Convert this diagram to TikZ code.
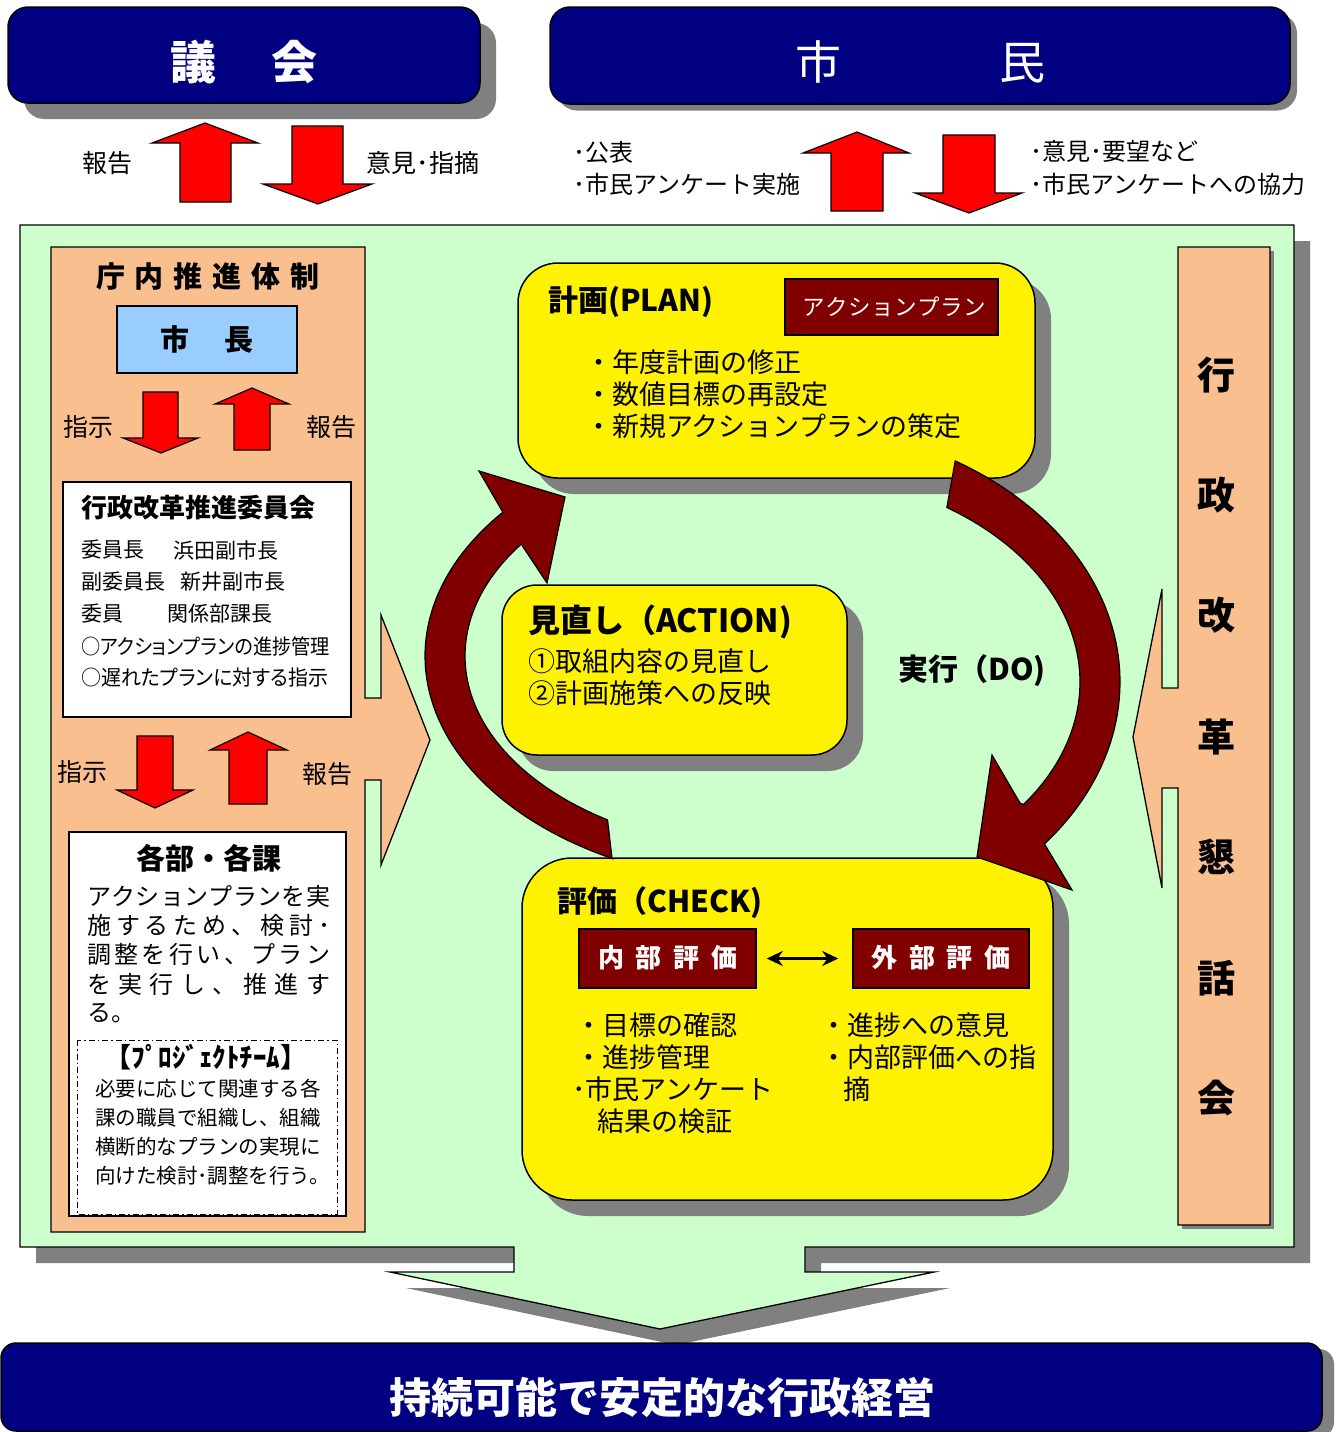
\documentclass[tikz,border=0pt]{standalone}
\usepackage{fontspec}
\usepackage{graphicx}
\setmainfont{Noto Sans CJK JP}
\newfontfamily\pf[RawFeature=+palt]{Noto Sans CJK JP}
\usetikzlibrary{arrows.meta}
\newcommand\fs[1]{\fontsize{#1}{#1}\selectfont}
\makeatletter
\def\spr#1{\spr@a#1\@nil}
\def\spr@a#1{\ifx#1\@nil\else#1\expandafter\spr@b\fi}
\def\spr@b#1{\ifx#1\@nil\else\hfill#1\expandafter\spr@b\fi}
\makeatother
\definecolor{navy}{RGB}{0,0,128}
\definecolor{dred}{RGB}{128,0,0}
\definecolor{pgreen}{RGB}{204,255,204}
\definecolor{orng}{RGB}{250,191,143}
\definecolor{lblue}{RGB}{153,204,255}
\definecolor{shd}{RGB}{128,128,128}
\begin{document}
\begin{tikzpicture}[x=1pt,y=-1pt,line join=miter,
  shadowbox/.style={fill=shd,inner sep=0pt},
  navybox/.style={fill=navy,draw=black,line width=1.5pt,inner sep=0pt},
  yelbox/.style={fill=yellow,draw=black,line width=1.5pt,inner sep=0pt},
  redarr/.style={fill=red,draw=black,line width=1.2pt},
  darkarr/.style={fill=dred,draw=black,line width=1.2pt},
  lab/.style={inner sep=0pt,anchor=west},
  ctr/.style={inner sep=0pt},
  wbox/.style={fill=white,draw=black,line width=1.5pt,inner sep=0pt},
  tagbox/.style={fill=dred,draw=black,line width=1.5pt,inner sep=0pt,text=white},
  panel/.style={draw=black,line width=1.3pt}]
\useasboundingbox (0,0) rectangle (1337,1432);
\fill[white] (0,0) rectangle (1337,1432);

% --- top boxes
\node[shadowbox,rounded corners=20pt,minimum width=472pt,minimum height=96pt] (gikaishd) at (260,71) {};
\node[navybox,rounded corners=20pt,minimum width=472pt,minimum height=96pt] (gikai) at (244,55) {};
\node[ctr,text=white,font=\fs{46}\bfseries] (gikaitxt) at (244,62) {議\hspace{56pt}会};

\node[shadowbox,rounded corners=20pt,minimum width=740pt,minimum height=97pt] (shiminshd) at (927,62) {};
\node[navybox,rounded corners=20pt,minimum width=740pt,minimum height=97pt] (shimin) at (920,55.5) {};
\node[ctr,text=white,font=\fs{46}] (shimintxt) at (920,62) {市\hspace{158pt}民};

% --- top arrows
\draw[redarr] (180,202) -- (180,143) -- (152,143) -- (205,123) -- (258,143) -- (231,143) -- (231,202) -- cycle;
\draw[redarr] (292,126) -- (343,126) -- (343,184) -- (372,184) -- (318,204) -- (263,184) -- (292,184) -- cycle;
\draw[redarr] (831,211) -- (831,153) -- (803,153) -- (857,132) -- (909,153) -- (883,153) -- (883,211) -- cycle;
\draw[redarr] (943,135) -- (995,135) -- (995,193) -- (1022,193) -- (969,213) -- (915,193) -- (943,193) -- cycle;
\node[ctr,font=\fs{25}] (hk1) at (107,163) {報告};
\node[ctr,font=\fs{25}] (iken1) at (423,163) {意見･指摘};
\node[lab,font=\fs{24}] (kohyo) at (573,152) {･公表};
\node[lab,font=\fs{24}] (anke1) at (573,184) {･市民アンケート実施};
\node[lab,font=\fs{24}] (yobo) at (1030,151) {･意見･要望など};
\node[lab,font=\fs{24}] (anke2) at (1030,184) {･市民アンケートへの協力};

% --- green panel
\fill[shd] (36,241) -- (1310,241) -- (1310,1263) -- (821,1263) -- (821,1288) -- (950,1288) -- (676,1345) -- (406,1288) -- (530,1288) -- (530,1263) -- (36,1263) -- cycle;
\filldraw[fill=pgreen,panel] (20,225) -- (1294,225) -- (1294,1247) -- (805,1247) -- (805,1272) -- (934,1272) -- (660,1329) -- (390,1272) -- (514,1272) -- (514,1247) -- (20,1247) -- cycle;

% --- left orange panel
\filldraw[fill=orng,panel] (51,247) -- (365,247) -- (365,698) -- (381,698) -- (381,615) -- (430,740) -- (381,865) -- (381,780) -- (365,780) -- (365,1232) -- (51,1232) -- cycle;

% --- right orange panel
\fill[shd] (1182,251) rectangle (1274,1229);
\filldraw[fill=orng,panel] (1178,247) -- (1270,247) -- (1270,1225) -- (1178,1225) -- (1178,788) -- (1162,788) -- (1162,888) -- (1133,737) -- (1162,589) -- (1162,688) -- (1178,688) -- cycle;
\foreach \c/\yy [count=\i] in {行/375,政/495,改/615,革/737,懇/857,話/978,会/1098}
  \node[ctr,font=\fs{38}\bfseries] (kon\i) at (1216,\yy) {\c};

% --- left panel contents
\node[ctr,font=\fs{29}\bfseries] (chonai) at (208,276) {庁\hspace{10pt}内\hspace{10pt}推\hspace{10pt}進\hspace{10pt}体\hspace{10pt}制};
\node[fill=lblue,draw=black,line width=1.5pt,inner sep=0pt,minimum width=180pt,minimum height=67pt] (shicho) at (207,339.5) {};
\node[ctr,font=\fs{29}\bfseries] (shichotxt) at (207,339) {市\hspace{36pt}長};
\draw[redarr] (143,392) -- (178,392) -- (178,438) -- (198,438) -- (161,453) -- (123,438) -- (143,438) -- cycle;
\draw[redarr] (234,450) -- (234,404) -- (215,404) -- (252,388) -- (289,404) -- (270,404) -- (270,450) -- cycle;
\node[ctr,font=\fs{25}] (shiji1) at (88,427) {指示};
\node[ctr,font=\fs{25}] (hk2) at (331,427) {報告};

\node[wbox,minimum width=288pt,minimum height=235pt] (iinkai) at (207,599.5) {};
\node[lab,font=\fs{26}\bfseries] (iinkaitit) at (81,508) {行政改革推進委員会};
\node[lab,font=\fs{21}] (m1a) at (81,550) {委員長};
\node[lab,font=\fs{21}] (m1b) at (173,550) {浜田副市長};
\node[lab,font=\fs{21}] (m2a) at (81,582) {副委員長};
\node[lab,font=\fs{21}] (m2b) at (180,582) {新井副市長};
\node[lab,font=\fs{21}] (m3a) at (81,614) {委員};
\node[lab,font=\fs{21}] (m3b) at (167,614) {関係部課長};
\node[lab,font=\pf\fs{21}] (m4) at (81,646) {\scalebox{0.915}[1]{○アクションプランの進捗管理}};
\node[lab,font=\pf\fs{21}] (m5) at (81,678) {\scalebox{0.95}[1]{○遅れたプランに対する指示}};

\draw[redarr] (137,736) -- (173,736) -- (173,790) -- (193,790) -- (155,808) -- (117,790) -- (137,790) -- cycle;
\draw[redarr] (229,804) -- (229,750) -- (210,750) -- (248,732) -- (287,750) -- (267,750) -- (267,804) -- cycle;
\node[ctr,font=\fs{25}] (shiji2) at (82,772) {指示};
\node[ctr,font=\fs{25}] (hk3) at (327,774) {報告};

\node[wbox,minimum width=277pt,minimum height=384pt] (kakubu) at (207.5,1024) {};
\node[ctr,font=\fs{29}\bfseries] (kakubutit) at (209,858) {各部・各課};
\node[lab,font=\fs{24}] (k1) at (87,896) {\hbox to 243pt{\spr{アクションプランを実}}};
\node[lab,font=\fs{24}] (k2) at (87,925) {\hbox to 243pt{\spr{施するため、検討･}}};
\node[lab,font=\fs{24}] (k3) at (87,954) {\hbox to 243pt{\spr{調整を行い、プラン}}};
\node[lab,font=\fs{24}] (k4) at (87,984) {\hbox to 243pt{\spr{を実行し、推進す}}};
\node[lab,font=\fs{24}] (k5) at (87,1013) {る。};
\draw[line width=1pt,dash pattern=on 6pt off 3pt on 1.5pt off 3pt] (77,1040) rectangle (337,1214);
\node[ctr,font=\fs{27}\bfseries] (pjt) at (206,1057) {【ﾌﾟﾛｼﾞｪｸﾄﾁｰﾑ】};
\node[lab,font=\fs{20.5}] (p1) at (95,1089) {必要に応じて関連する各};
\node[lab,font=\fs{20.5}] (p2) at (95,1118) {課の職員で組織し、組織};
\node[lab,font=\fs{20.5}] (p3) at (95,1147) {横断的なプランの実現に};
\node[lab,font=\fs{20.5}] (p4) at (95,1176) {向けた検討･調整を行う。};

% --- PLAN box
\node[shadowbox,rounded corners=40pt,minimum width=517pt,minimum height=215pt] (planshd) at (792.5,386.5) {};
\node[yelbox,rounded corners=40pt,minimum width=517pt,minimum height=215pt] (plan) at (776.5,370.5) {};
\node[lab,font=\fs{30}\bfseries] (plantit) at (548,302) {計画(PLAN)};
\node[tagbox,minimum width=213pt,minimum height=56pt] (aptag) at (891.5,307) {};
\node[ctr,text=white,font=\fs{22.5}] (aptagtxt) at (894,307) {\hbox to 184pt{\spr{アクションプラン}}};
\node[lab,font=\fs{27}] (pl1) at (585,362) {・年度計画の修正};
\node[lab,font=\fs{27}] (pl2) at (585,394) {・数値目標の再設定};
\node[lab,font=\fs{27}] (pl3) at (585,426) {・新規アクションプランの策定};

% --- ACTION box
\node[shadowbox,rounded corners=35pt,minimum width=345pt,minimum height=170pt] (actshd) at (690.5,686) {};
\node[yelbox,rounded corners=35pt,minimum width=345pt,minimum height=170pt] (act) at (674.5,670) {};
\node[lab,font=\fs{32}\bfseries] (acttit) at (528,622) {見直し（ACTION)};
\node[lab,font=\fs{27}] (ac1) at (528,661) {①取組内容の見直し};
\node[lab,font=\fs{27}] (ac2) at (528,693) {②計画施策への反映};

% --- CHECK box
\node[shadowbox,rounded corners=50pt,minimum width=531pt,minimum height=342pt] (chkshd) at (803.5,1045) {};
\node[yelbox,rounded corners=50pt,minimum width=531pt,minimum height=342pt] (chk) at (787.5,1029) {};
\node[lab,font=\fs{30}\bfseries] (chktit) at (557,903) {評価（CHECK)};
\node[tagbox,minimum width=177pt,minimum height=59pt] (naibu) at (667.5,958.5) {};
\node[ctr,text=white,font=\fs{26}\bfseries] (naibutxt) at (667.5,958) {\hbox to 139pt{\spr{内部評価}}};
\node[tagbox,minimum width=176pt,minimum height=59pt] (gaibu) at (941,958.5) {};
\node[ctr,text=white,font=\fs{26}\bfseries] (gaibutxt) at (941,958) {\hbox to 139pt{\spr{外部評価}}};
\draw[line width=3.5pt,{Stealth[length=16pt,width=15pt]}-{Stealth[length=16pt,width=15pt]},shorten <=10pt,shorten >=14pt] (naibu.east) -- (gaibu.west);
\node[lab,font=\fs{27}] (c1) at (575,1025) {・目標の確認};
\node[lab,font=\fs{27}] (c2) at (575,1057) {・進捗管理};
\node[lab,font=\fs{27}] (c3) at (572,1089) {･市民アンケート};
\node[lab,font=\fs{27}] (c4) at (597,1121) {結果の検証};
\node[lab,font=\fs{27}] (c5) at (820,1025) {・進捗への意見};
\node[lab,font=\fs{27}] (c6) at (820,1057) {・内部評価への指};
\node[lab,font=\fs{27}] (c7) at (843,1089) {摘};

% --- circular arrows
\filldraw[darkarr] (612,858) -- plot[domain=117.8:218.9,samples=60] ({776+351*cos(\x)},{656+229*sin(\x)}) -- (479,471) -- (565,497) -- (547,583) -- plot[domain=215:122.8,samples=60] ({776+311*cos(\x)},{656+195*sin(\x)}) -- cycle;
\filldraw[darkarr] plot[domain=-58.6:38.7,samples=60] ({776+344*cos(\x)},{682+259*sin(\x)}) -- (1072,890) -- (977,857) -- (992,755) -- (1020,803) -- plot[domain=35.5:-55.8,samples=60] ({776+304*cos(\x)},{682+211*sin(\x)}) -- cycle;
\node[lab,font=\fs{30}\bfseries] (dolab) at (898,671) {実行（DO)};

% --- bottom box
\node[shadowbox,rounded corners=15pt,minimum width=1321pt,minimum height=88pt] (botshd) at (673.5,1393) {};
\node[navybox,rounded corners=15pt,minimum width=1321pt,minimum height=88pt] (bot) at (661.5,1387) {};
\node[ctr,text=white,font=\fs{42}\bfseries] (bottxt) at (662,1398) {持続可能で安定的な行政経営};
\end{tikzpicture}
\end{document}
